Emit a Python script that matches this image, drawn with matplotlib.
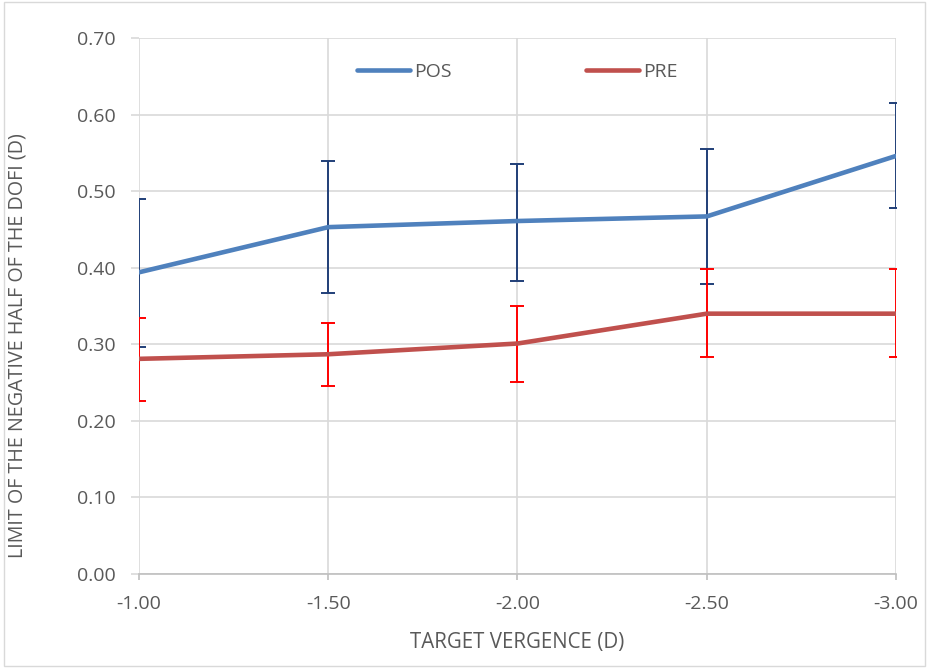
# Line chart with error bars: limit of the negative half of the DoFi
import matplotlib.pyplot as plt
from matplotlib.patches import Rectangle

categories = ['-1.00', '-1.50', '-2.00', '-2.50', '-3.00']

pos_mean = [0.394, 0.453, 0.461, 0.467, 0.546]
pos_upper = [0.490, 0.539, 0.536, 0.555, 0.615]
pos_lower = [0.297, 0.367, 0.383, 0.379, 0.478]

pre_mean = [0.281, 0.287, 0.301, 0.340, 0.340]
pre_upper = [0.334, 0.328, 0.350, 0.398, 0.398]
pre_lower = [0.226, 0.245, 0.251, 0.283, 0.283]

y_ticks = [0.0, 0.1, 0.2, 0.3, 0.4, 0.5, 0.6, 0.7]

plt.rcParams['font.family'] = ['Open Sans', 'DejaVu Sans']
txt = '#595959'
grid = '#D9D9D9'

fig = plt.figure(figsize=(9.29, 6.68), dpi=100)
ax = fig.add_axes([0.1496, 0.1407, 0.8149, 0.8024])

x = list(range(len(categories)))

pos_err = [[m - lo for m, lo in zip(pos_mean, pos_lower)],
           [hi - m for m, hi in zip(pos_mean, pos_upper)]]
pre_err = [[m - lo for m, lo in zip(pre_mean, pre_lower)],
           [hi - m for m, hi in zip(pre_mean, pre_upper)]]

ax.errorbar(x, pos_mean, yerr=pos_err, fmt='none', ecolor='#203F78',
            elinewidth=1.4, capsize=5, capthick=1.4, zorder=3)
ax.errorbar(x, pre_mean, yerr=pre_err, fmt='none', ecolor='#FF0000',
            elinewidth=1.4, capsize=5, capthick=1.4, zorder=3)

ax.plot(x, pos_mean, color='#4F81BD', lw=3.3, label='POS', zorder=4,
        solid_capstyle='round')
ax.plot(x, pre_mean, color='#C0504D', lw=3.3, label='PRE', zorder=4,
        solid_capstyle='round')

ax.set_xlim(0, len(categories) - 1)
ax.set_ylim(0, 0.7)
ax.set_xticks(x)
ax.set_xticklabels(categories)
ax.set_yticks(y_ticks)
ax.set_yticklabels(['%.2f' % v for v in y_ticks])

ax.grid(True, color=grid, lw=1.2, zorder=0)
ax.set_axisbelow(True)
for side in ['top', 'right', 'left']:
    ax.spines[side].set_visible(False)
ax.spines['bottom'].set_color('#BFBFBF')
ax.spines['bottom'].set_linewidth(1.2)

ax.tick_params(axis='y', length=6, width=1.2, color=grid, labelsize=14,
               labelcolor=txt, pad=11)
ax.tick_params(axis='x', length=4, width=1.2, color='#BFBFBF', labelsize=14,
               labelcolor=txt, pad=11)

ax.set_xlabel('TARGET VERGENCE (D)', fontsize=14.8, color=txt)
ax.set_ylabel('LIMIT OF THE NEGATIVE HALF OF THE DOFI (D)', fontsize=14.2,
              color=txt)
ax.xaxis.label.set_va('center')
ax.yaxis.label.set_va('center')
ax.xaxis.set_label_coords(0.5, -0.127)
ax.yaxis.set_label_coords(-0.161, 0.427)

leg = ax.legend(loc='center', bbox_to_anchor=(0.5, 0.937), ncol=2,
                frameon=False, handlelength=2.7, columnspacing=6.9,
                handletextpad=0.25, fontsize=14)
for t in leg.get_texts():
    t.set_color(txt)

fig.patches.append(Rectangle((0.004, 0.003), 0.992, 0.994, transform=fig.transFigure,
                             fill=False, edgecolor='#D9D9D9', lw=1))

fig.savefig('out.png', dpi=100)
